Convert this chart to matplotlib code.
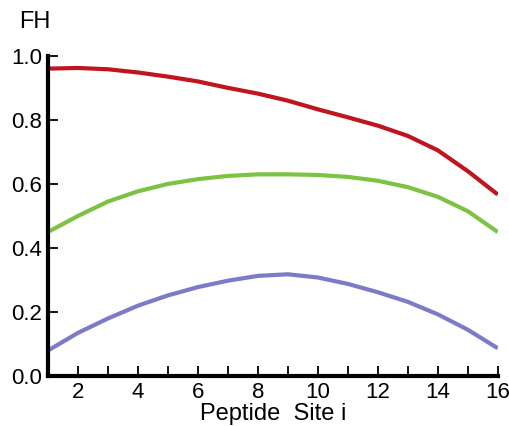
import matplotlib
matplotlib.use("Agg")
import matplotlib.pyplot as plt
from matplotlib.ticker import MultipleLocator

plt.rcParams["font.family"] = ["Liberation Sans", "DejaVu Sans"]

# values
site = [1, 2, 3, 4, 5, 6, 7, 8, 9, 10, 11, 12, 13, 14, 15, 16]
fh_red = [0.960, 0.962, 0.958, 0.948, 0.935, 0.920, 0.900, 0.882, 0.860,
          0.833, 0.808, 0.782, 0.750, 0.705, 0.640, 0.567]
fh_green = [0.450, 0.500, 0.545, 0.577, 0.600, 0.615, 0.625, 0.630, 0.630,
            0.628, 0.622, 0.610, 0.590, 0.560, 0.515, 0.450]
fh_blue = [0.080, 0.135, 0.180, 0.220, 0.252, 0.278, 0.298, 0.313, 0.318,
           0.308, 0.288, 0.262, 0.232, 0.193, 0.145, 0.087]

fig = plt.figure(figsize=(5.10, 4.26), dpi=100)
ax = fig.add_axes([0.094, 0.117, 0.882, 0.752])

ax.plot(site, fh_red, color="#c0141e", lw=3, solid_capstyle="butt")
ax.plot(site, fh_green, color="#7dc242", lw=3, solid_capstyle="butt")
ax.plot(site, fh_blue, color="#7b7bc8", lw=3, solid_capstyle="butt")

ax.set_xlim(1, 16)
ax.set_ylim(0, 1.0)
ax.xaxis.set_major_locator(MultipleLocator(2))
ax.xaxis.set_minor_locator(MultipleLocator(1))
ax.yaxis.set_major_locator(MultipleLocator(0.2))
ax.set_yticklabels([f"{v:.1f}" for v in ax.get_yticks()])

for s in ["top", "right"]:
    ax.spines[s].set_visible(False)
for s in ["left", "bottom"]:
    ax.spines[s].set_linewidth(3)
ax.tick_params(which="both", direction="in", width=1.3, labelsize=16, pad=4)
ax.tick_params(which="major", length=7)
ax.tick_params(which="minor", length=7)

ax.set_xlabel("Peptide  Site i", fontsize=17, labelpad=0)
fig.text(0.038, 0.948, "FH", fontsize=17, ha="left", va="center")

fig.savefig("out.png", dpi=100)
